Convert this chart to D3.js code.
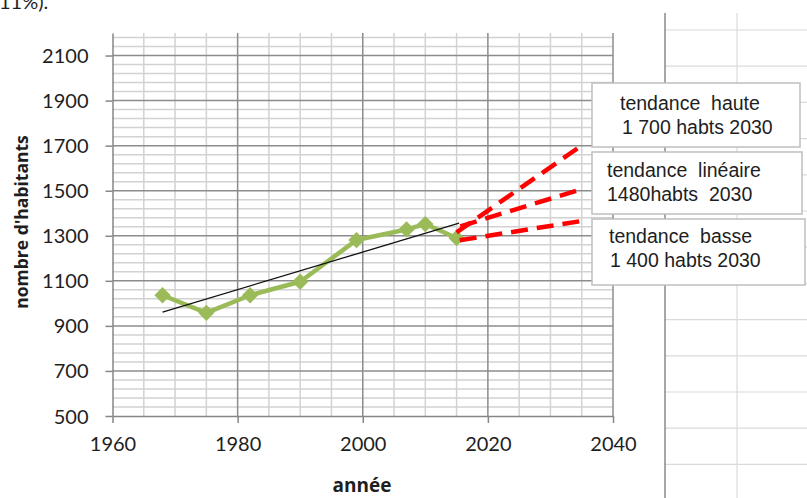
<!DOCTYPE html>
<meta charset="utf-8">
<head>
    <script src="https://d3js.org/d3.v7.min.js"></script>
    <style>
        body { margin: 0; background: #fff; }
        text { fill: #1e1e1e; }
    </style>
</head>
<body>
<div id="chartContainer"></div>
</body>
<script type="text/javascript">

    // population observee (annee, habitants)
    var years = [1968, 1975, 1982, 1990, 1999, 2007, 2010, 2015];
    var habitants = [1036, 958, 1036, 1096, 1281, 1328, 1352, 1290];

    // droite de tendance (regression) : debut et fin
    var trendYears = [1968, 2015.4];
    var trendValues = [961, 1356];

    // projections 2015 -> 2035
    var highYears = [2015, 2034.7];
    var highValues = [1315, 1695];
    var linYears = [2015.6, 2035];
    var linValues = [1342, 1507];
    var lowYears = [2015.5, 2035.1];
    var lowValues = [1280, 1366];

    var xTicks = [1960, 1980, 2000, 2020, 2040];
    var yTicks = [500, 700, 900, 1100, 1300, 1500, 1700, 1900, 2100];

    var boxTexts = [
        ["tendance  haute", "1 700 habts 2030"],
        ["tendance  linéaire", "1480habts  2030"],
        ["tendance  basse", "1 400 habts 2030"]
    ];

    var svg = d3.select("#chartContainer").append("svg")
        .attr("width", 807)
        .attr("height", 498);

    var x = d3.scaleLinear().domain([1960, 2040]).range([112.5, 613]);
    var y = d3.scaleLinear().domain([500, 2200]).range([416, 33]);

    // bout de texte coupe en haut
    svg.append("text")
        .attr("x", -1).attr("y", 9)
        .style("font-family", "Lato").style("font-size", "20px")
        .text("11%).");

    // grille de la feuille a droite
    var sheetRows = d3.range(0, 13).map(function (i) { return 30 + i * 36.2; });
    svg.selectAll(".sheetRow").data(sheetRows).enter().append("line")
        .attr("x1", 665).attr("x2", 807)
        .attr("y1", function (d) { return d; }).attr("y2", function (d) { return d; })
        .style("stroke", "#dadada").style("stroke-width", 1.2);
    svg.append("line").attr("x1", 737).attr("x2", 737).attr("y1", 13).attr("y2", 498)
        .style("stroke", "#dadada").style("stroke-width", 1.2);
    svg.append("line").attr("x1", 665).attr("x2", 665).attr("y1", 13).attr("y2", 498)
        .style("stroke", "#8a8a8a").style("stroke-width", 1.5);

    // grille mineure
    var minorX = d3.range(1965, 2040, 5).filter(function (d) { return d % 20 != 0; });
    var minorY = d3.range(540, 2200, 40).filter(function (d) { return (d - 500) % 200 != 0; });
    svg.selectAll(".minorY").data(minorY).enter().append("line")
        .attr("x1", x(1960)).attr("x2", x(2040))
        .attr("y1", y).attr("y2", y)
        .style("stroke", "#d2d2d2").style("stroke-width", 1.5);
    svg.selectAll(".minorX").data(minorX).enter().append("line")
        .attr("x1", x).attr("x2", x)
        .attr("y1", y(500)).attr("y2", y(2200))
        .style("stroke", "#d2d2d2").style("stroke-width", 1.5);

    // grille majeure
    svg.selectAll(".majorY").data(yTicks.slice(1)).enter().append("line")
        .attr("x1", x(1960)).attr("x2", x(2040))
        .attr("y1", y).attr("y2", y)
        .style("stroke", "#8c8c8c").style("stroke-width", 1.5);
    svg.selectAll(".majorX").data(xTicks.slice(1)).enter().append("line")
        .attr("x1", x).attr("x2", x)
        .attr("y1", y(500)).attr("y2", y(2200))
        .style("stroke", "#8c8c8c").style("stroke-width", 1.5);

    // axes
    var xAxis = svg.append("g").attr("transform", "translate(0," + y(500) + ")")
        .call(d3.axisBottom(x).tickValues(xTicks).tickSize(7).tickSizeOuter(0).tickPadding(14).tickFormat(d3.format("d")));
    var yAxis = svg.append("g").attr("transform", "translate(" + x(1960) + ",0)")
        .call(d3.axisLeft(y).tickValues(yTicks).tickSize(7).tickSizeOuter(0).tickPadding(17).tickFormat(d3.format("d")));
    [xAxis, yAxis].forEach(function (a) {
        a.select(".domain").style("stroke", "#868686").style("stroke-width", 1.5);
        a.selectAll(".tick line").style("stroke", "#868686").style("stroke-width", 1.5);
        a.selectAll(".tick text").style("font-family", "Lato").style("font-size", "20px").style("fill", "#1e1e1e");
    });
    yAxis.selectAll(".tick text").attr("dy", "0.35em");

    svg.append("text")
        .attr("x", 362).attr("y", 492)
        .style("text-anchor", "middle")
        .style("font-family", "Open Sans").style("font-weight", "bold").style("font-size", "19px")
        .text("année");
    svg.append("text")
        .attr("transform", "translate(28,222) rotate(-90)")
        .style("text-anchor", "middle")
        .style("font-family", "Open Sans").style("font-weight", "bold").style("font-size", "17.5px")
        .text("nombre d'habitants");

    var line = d3.line().x(function (d) { return x(d[0]); }).y(function (d) { return y(d[1]); });

    // serie observee
    var pts = d3.zip(years, habitants);
    svg.append("path").datum(pts).attr("d", line)
        .style("fill", "none").style("stroke", "#9bbb59").style("stroke-width", 4.5)
        .style("stroke-linejoin", "round");
    svg.selectAll(".pt").data(pts).enter().append("path")
        .attr("transform", function (d) { return "translate(" + x(d[0]) + "," + y(d[1]) + ")"; })
        .attr("d", d3.symbol().type(d3.symbolDiamond2).size(170))
        .style("fill", "#9bbb59");

    // tendance
    svg.append("path").datum(d3.zip(trendYears, trendValues)).attr("d", line)
        .style("fill", "none").style("stroke", "#111").style("stroke-width", 1.3);

    // projections en tirets rouges
    [[highYears, highValues], [linYears, linValues], [lowYears, lowValues]].forEach(function (p) {
        svg.append("path").datum(d3.zip(p[0], p[1])).attr("d", line)
            .style("fill", "none").style("stroke", "#ff0000").style("stroke-width", 4.5)
            .style("stroke-dasharray", "17,9");
    });

    // zones de texte
    var boxes = [
        {x: 592, y: 83, w: 208, h: 64, tx: [620, 622]},
        {x: 592, y: 152, w: 210, h: 62, tx: [607, 607]},
        {x: 592, y: 219, w: 213, h: 66, tx: [609, 610]}
    ];
    var baselines = [[110, 134], [177, 201], [243, 267]];
    boxes.forEach(function (b, i) {
        svg.append("rect").attr("x", b.x).attr("y", b.y).attr("width", b.w).attr("height", b.h)
            .style("fill", "#fff").style("stroke", "#bfbfbf").style("stroke-width", 1.5);
        boxTexts[i].forEach(function (t, j) {
            svg.append("text")
                .attr("x", b.tx[j]).attr("y", baselines[i][j])
                .attr("xml:space", "preserve")
                .style("white-space", "pre")
                .style("font-family", "Liberation Sans").style("font-size", "19.5px")
                .text(t);
        });
    });

</script>
</html>
